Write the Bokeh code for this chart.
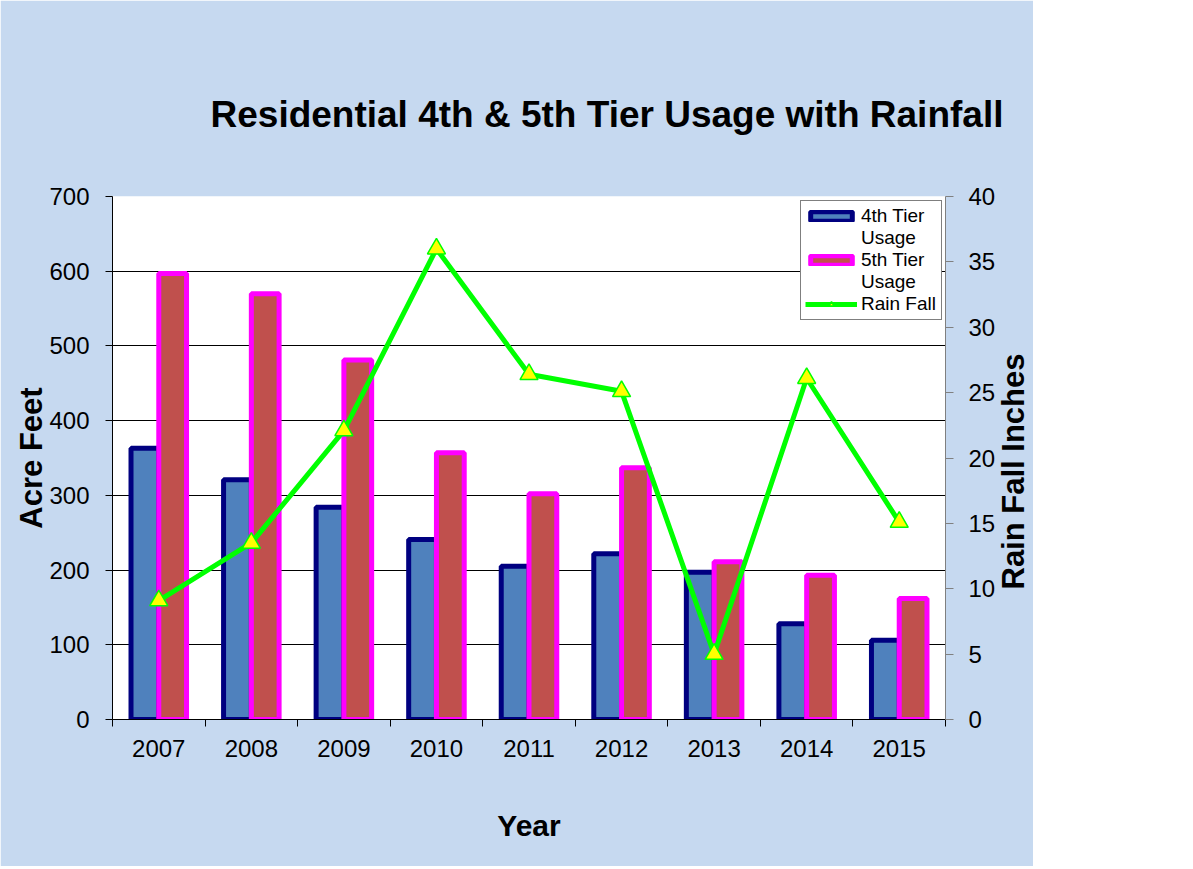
import math
from bokeh.plotting import figure
from bokeh.models import (ColumnDataSource, Range1d, LinearAxis, FixedTicker,
                          SingleIntervalTicker, Legend, LegendItem, Label)
from bokeh.transform import dodge
from bokeh.embed import file_html
from bokeh.resources import INLINE

# ---- data ----
years = ["2007", "2008", "2009", "2010", "2011", "2012", "2013", "2014", "2015"]
tier4 = [363, 321, 284, 241, 205, 222, 197, 128, 106]
tier5 = [597, 570, 481, 357, 302, 337, 211, 193, 162]
rain = [9.1, 13.5, 22.1, 36.0, 26.4, 25.1, 5.0, 26.1, 15.1]

title_text = "Residential 4th & 5th Tier Usage with Rainfall"
left_label = "Acre Feet"
right_label = "Rain Fall Inches"
x_label = "Year"

FONT = "Liberation Sans"
BG = "#C6D9F0"

n = len(years)
centers = [i + 0.5 for i in range(n)]   # category slot centres on a 0..n axis
src = ColumnDataSource(dict(x=centers, year=years, tier4=tier4, tier5=tier5, rain=rain))

p = figure(frame_width=833, frame_height=523, x_range=Range1d(0, n), y_range=Range1d(0, 700),
           output_backend="svg", toolbar_location=None,
           min_border_left=112, min_border_right=0, min_border_top=196, min_border_bottom=147)
p.border_fill_color = BG
p.background_fill_color = "white"
p.outline_line_color = None
p.xgrid.grid_line_color = None
p.ygrid.grid_line_color = "black"
p.ygrid.grid_line_width = 1
p.ygrid.ticker = SingleIntervalTicker(interval=100)

# title
p.title.text = title_text
p.title.text_font = FONT
p.title.text_font_size = "37px"
p.title.text_font_style = "bold"
p.title.text_color = "black"
p.title.align = "left"
p.title.offset = 98
p.title.standoff = 123

# left axis
ya = p.yaxis[0]
ya.ticker = SingleIntervalTicker(interval=100)
ya.minor_tick_line_color = None
ya.major_tick_out = 7
ya.major_tick_in = 0
ya.axis_line_color = "black"
ya.major_tick_line_color = "black"
ya.major_label_text_font = FONT
ya.major_label_text_font_size = "24px"
ya.major_label_text_color = "black"
ya.major_label_standoff = 16
ya.axis_label = left_label
ya.axis_label_text_font = FONT
ya.axis_label_text_font_size = "31px"
ya.axis_label_text_font_style = "bold"
ya.axis_label_text_color = "black"
ya.axis_label_standoff = -3

# right axis
p.extra_y_ranges = {"rain": Range1d(0, 40)}
ra = LinearAxis(y_range_name="rain", ticker=SingleIntervalTicker(interval=5))
ra.minor_tick_line_color = None
ra.major_tick_out = 8
ra.major_tick_in = 0
ra.axis_line_color = "#808080"
ra.major_tick_line_color = "#808080"
ra.major_label_text_font = FONT
ra.major_label_text_font_size = "24px"
ra.major_label_text_color = "black"
ra.major_label_standoff = 15
p.add_layout(ra, "right")

# right axis title, reading bottom to top, in its own slot of the right panel
p.add_layout(Label(x=15, y=248, x_units="screen", y_units="screen", text=right_label,
                   angle=math.pi / 2, text_font=FONT, text_font_size="31px",
                   text_font_style="bold", text_color="black",
                   text_align="center", text_baseline="middle"), "right")

# bottom: boundary ticks (main x axis) + category label axis
ta = p.xaxis[0]
ta.ticker = FixedTicker(ticks=list(range(n + 1)))
ta.major_label_overrides = {i: "" for i in range(n + 1)}
ta.major_label_text_font_size = "0px"
ta.major_label_standoff = 0
ta.minor_tick_line_color = None
ta.major_tick_out = 7
ta.major_tick_in = 0
ta.axis_line_color = "black"
ta.major_tick_line_color = "black"

ca = LinearAxis(ticker=FixedTicker(ticks=centers))
ca.major_label_overrides = {c: y for c, y in zip(centers, years)}
ca.axis_line_color = None
ca.major_tick_line_color = None
ca.minor_tick_line_color = None
ca.major_tick_out = 0
ca.major_tick_in = 0
ca.major_label_text_font = FONT
ca.major_label_text_font_size = "24px"
ca.major_label_text_color = "black"
ca.major_label_standoff = 13
ca.axis_label = x_label
ca.axis_label_text_font = FONT
ca.axis_label_text_font_size = "30px"
ca.axis_label_text_font_style = "bold"
ca.axis_label_text_color = "black"
ca.axis_label_standoff = 49
p.add_layout(ca, "below")

# bars
r4 = p.vbar(x=dodge("x", -0.15), top="tier4", width=0.3, source=src,
            fill_color="#4F81BD", line_color="#000080", line_width=5)
r5 = p.vbar(x=dodge("x", 0.15), top="tier5", width=0.3, source=src,
            fill_color="#C0504D", line_color="#FF00FF", line_width=5)

# rain line
rl = p.line(x="x", y="rain", source=src, y_range_name="rain", line_color="#00FF00", line_width=5)
rs = p.scatter(x="x", y="rain", source=src, y_range_name="rain", marker="triangle", size=18,
               fill_color="#FFFF00", line_color="#00FF00", line_width=1.5)

# invisible renderer for wrapped legend lines
dummy = p.scatter(x=[], y=[], size=1, fill_alpha=0, line_alpha=0)

legend = Legend(items=[
    LegendItem(label="4th Tier", renderers=[r4]),
    LegendItem(label="Usage", renderers=[dummy]),
    LegendItem(label="5th Tier", renderers=[r5]),
    LegendItem(label="Usage", renderers=[dummy]),
    LegendItem(label="Rain Fall", renderers=[rl, rs]),
], location=(688, 399))
legend.background_fill_color = "white"
legend.background_fill_alpha = 1
legend.border_line_color = "black"
legend.border_line_width = 1
legend.label_text_font = FONT
legend.label_text_font_size = "19px"
legend.label_text_color = "black"
legend.label_text_line_height = 1.09
legend.label_height = 21
legend.label_width = 76
legend.label_standoff = 4
legend.glyph_width = 52
legend.glyph_height = 12
legend.spacing = 0
legend.padding = 4
legend.margin = 0
p.add_layout(legend, "center")

open("out.html", "w").write(file_html(p, INLINE))
